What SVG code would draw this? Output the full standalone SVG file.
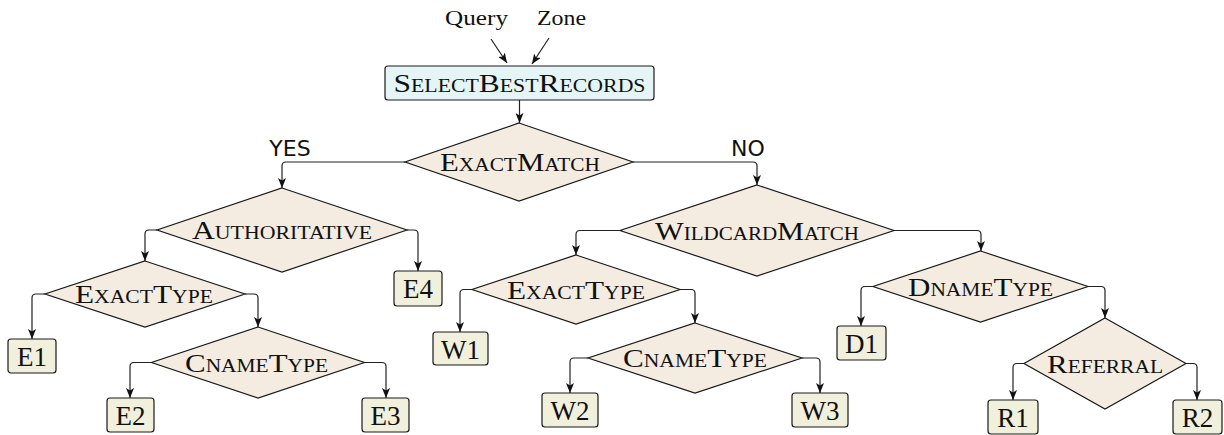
<svg xmlns="http://www.w3.org/2000/svg" width="1224" height="435" viewBox="0 0 1224 435">
<style>
.dia{fill:#f4ece1;stroke:#1a1a1a;stroke-width:1.2;stroke-linejoin:miter}
.leaf{fill:#f0f0dc;stroke:#1a1a1a;stroke-width:1.2}
.start{fill:#e5f5f5;stroke:#1a1a1a;stroke-width:1.2}
.sc{font-family:"Liberation Serif",serif;font-variant:small-caps;font-size:26px;fill:#111;text-anchor:middle}
.lt{font-family:"Liberation Serif",serif;font-size:27px;fill:#111;text-anchor:middle}
.in{font-family:"Liberation Serif",serif;font-size:21px;fill:#111;text-anchor:middle}
.lab{font-family:"DejaVu Sans",sans-serif;font-size:22px;fill:#111;text-anchor:middle}
.c{fill:none;stroke:#222;stroke-width:1.2;marker-end:url(#ah)}
</style>
<defs>
<marker id="ah" viewBox="0 0 10 8" refX="10" refY="4" markerWidth="10" markerHeight="8" markerUnits="userSpaceOnUse" orient="auto">
<path d="M0,0 L10,4 L0,8 L2.5,4 z" fill="#111"/>
</marker>
</defs>
<g id="connectors">
<path class="c" d="M491,39 L507,63"/>
<path class="c" d="M549,38 L532,64"/>
<path class="c" d="M519.5,100 V123"/>
<path class="c" d="M405,162 H286 Q282,162 282,166 V188"/>
<path class="c" d="M633,162 H753 Q757,162 757,166 V185"/>
<path class="c" d="M157,230 H149 Q145,230 145,234 V261"/>
<path class="c" d="M407,230 H414 Q418,230 418,234 V271"/>
<path class="c" d="M45,294 H36 Q32,294 32,298 V339"/>
<path class="c" d="M245,294 H254 Q258,294 258,298 V327"/>
<path class="c" d="M151.5,362.5 H134 Q130,362.5 130,366.5 V398"/>
<path class="c" d="M364.5,362.5 H382 Q386,362.5 386,366.5 V398"/>
<path class="c" d="M620,230.5 H580 Q576,230.5 576,234.5 V255"/>
<path class="c" d="M894,230.5 H977 Q981,230.5 981,234.5 V251"/>
<path class="c" d="M472,289.5 H464 Q460,289.5 460,293.5 V332"/>
<path class="c" d="M680,289.5 H691 Q695,289.5 695,293.5 V323"/>
<path class="c" d="M588,358 H574 Q570,358 570,362 V393"/>
<path class="c" d="M802,358 H816 Q820,358 820,362 V393"/>
<path class="c" d="M873,286.5 H865 Q861,286.5 861,290.5 V326"/>
<path class="c" d="M1088,286.5 H1101 Q1105,286.5 1105,290.5 V318"/>
<path class="c" d="M1024,363.5 H1017 Q1013,363.5 1013,367.5 V400"/>
<path class="c" d="M1186,363.5 H1193 Q1197,363.5 1197,367.5 V400"/>
</g>
<g id="labels">
<text class="in" x="476.5" y="25" textLength="63" lengthAdjust="spacingAndGlyphs">Query</text>
<text class="in" x="561.5" y="25" textLength="49" lengthAdjust="spacingAndGlyphs">Zone</text>
<text class="lab" x="290" y="156">YES</text>
<text class="lab" x="748" y="156">NO</text>
</g>
<g id="SelectBestRecords">
<rect class="start" x="385" y="66" width="269" height="34" rx="3"/>
<text class="sc" x="519.5" y="92" textLength="252" lengthAdjust="spacingAndGlyphs">SelectBestRecords</text>
</g>
<g id="ExactMatch">
<polygon class="dia" points="519,123 633,162 519,201 405,162"/>
<text class="sc" x="520" y="171" textLength="160" lengthAdjust="spacingAndGlyphs">ExactMatch</text>
</g>
<g id="Authoritative">
<polygon class="dia" points="282,188 407,230 282,272 157,230"/>
<text class="sc" x="282" y="239" textLength="180" lengthAdjust="spacingAndGlyphs">Authoritative</text>
</g>
<g id="ExactType1">
<polygon class="dia" points="145,261 245,294 145,327 45,294"/>
<text class="sc" x="144" y="303" textLength="138" lengthAdjust="spacingAndGlyphs">ExactType</text>
</g>
<g id="CnameType1">
<polygon class="dia" points="258,327 364.5,362.5 258,398 151.5,362.5"/>
<text class="sc" x="256.5" y="371.5" textLength="143" lengthAdjust="spacingAndGlyphs">CnameType</text>
</g>
<g id="WildcardMatch">
<polygon class="dia" points="757,185 894,230.5 757,276 620,230.5"/>
<text class="sc" x="757" y="239.5" textLength="204" lengthAdjust="spacingAndGlyphs">WildcardMatch</text>
</g>
<g id="ExactType2">
<polygon class="dia" points="576,255 680,289.5 576,324 472,289.5"/>
<text class="sc" x="576" y="298.5" textLength="138" lengthAdjust="spacingAndGlyphs">ExactType</text>
</g>
<g id="CnameType2">
<polygon class="dia" points="695,323 802,358 695,393 588,358"/>
<text class="sc" x="695" y="367" textLength="144" lengthAdjust="spacingAndGlyphs">CnameType</text>
</g>
<g id="DnameType">
<polygon class="dia" points="980.5,251 1088,286.5 980.5,322 873,286.5"/>
<text class="sc" x="980.5" y="295.5" textLength="145" lengthAdjust="spacingAndGlyphs">DnameType</text>
</g>
<g id="Referral">
<polygon class="dia" points="1105,318 1186,363.5 1105,409 1024,363.5"/>
<text class="sc" x="1105" y="372.5" textLength="116" lengthAdjust="spacingAndGlyphs">Referral</text>
</g>
<g id="E4"><rect class="leaf" x="394" y="271" width="48" height="35" rx="3"/><text class="lt" x="418" y="298">E4</text></g>
<g id="E1"><rect class="leaf" x="8" y="339" width="48" height="34" rx="3"/><text class="lt" x="32" y="366">E1</text></g>
<g id="E2"><rect class="leaf" x="107" y="398" width="47" height="34" rx="3"/><text class="lt" x="130.5" y="425">E2</text></g>
<g id="E3"><rect class="leaf" x="362" y="398" width="47" height="34" rx="3"/><text class="lt" x="385.5" y="425">E3</text></g>
<g id="W1"><rect class="leaf" x="433" y="332" width="55" height="33" rx="3"/><text class="lt" x="460.5" y="358.5">W1</text></g>
<g id="W2"><rect class="leaf" x="542" y="393" width="56" height="34" rx="3"/><text class="lt" x="570" y="420">W2</text></g>
<g id="W3"><rect class="leaf" x="792" y="393" width="56" height="34" rx="3"/><text class="lt" x="820" y="420">W3</text></g>
<g id="D1"><rect class="leaf" x="837" y="326" width="49" height="34" rx="3"/><text class="lt" x="861.5" y="353">D1</text></g>
<g id="R1"><rect class="leaf" x="988" y="400" width="50" height="34" rx="3"/><text class="lt" x="1013" y="427">R1</text></g>
<g id="R2"><rect class="leaf" x="1173" y="400" width="49" height="34" rx="3"/><text class="lt" x="1197.5" y="427">R2</text></g>
</svg>
